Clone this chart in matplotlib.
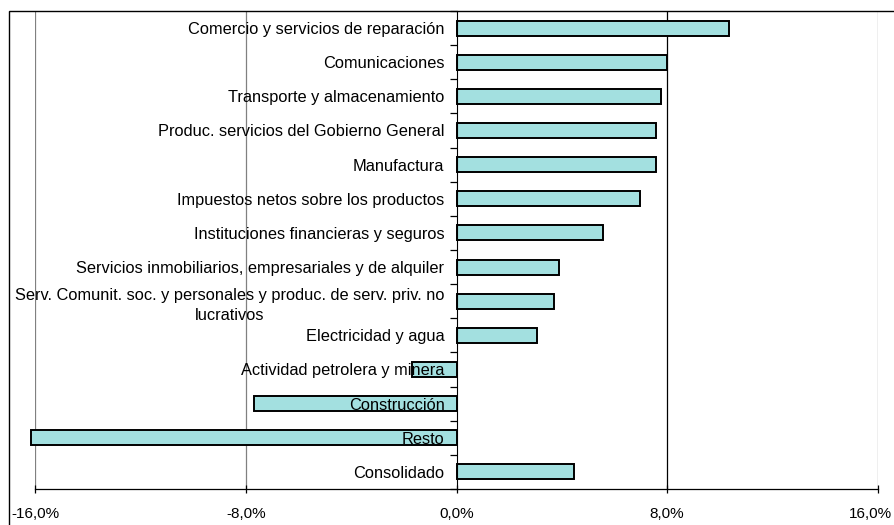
import matplotlib
matplotlib.use("Agg")
import matplotlib.pyplot as plt
from matplotlib.patches import Rectangle
from matplotlib.ticker import FuncFormatter, FixedLocator
from matplotlib.transforms import ScaledTranslation
import numpy as np

# sectors, top to bottom as in the chart
categories = [
    "Comercio y servicios de reparación",
    "Comunicaciones",
    "Transporte y almacenamiento",
    "Produc. servicios del Gobierno General",
    "Manufactura",
    "Impuestos netos sobre los productos",
    "Instituciones financieras y seguros",
    "Servicios inmobiliarios, empresariales y de alquiler",
    "Serv. Comunit. soc. y personales y produc. de serv. priv. no\nlucrativos",
    "Electricidad y agua",
    "Actividad petrolera y minera",
    "Construcción",
    "Resto",
    "Consolidado",
]
# growth rate (%)
values = [10.35, 7.98, 7.78, 7.58, 7.58, 6.96, 5.57, 3.90, 3.69, 3.06, -1.69, -7.70, -16.16, 4.45]
x_ticks = [-16, -8, 0, 8, 16]

plt.rcParams["font.family"] = ["Liberation Sans", "DejaVu Sans"]

fig = plt.figure(figsize=(8.95, 5.25), dpi=100)
W, H = 895.0, 525.0
ax = fig.add_axes([35.3 / W, 36 / H, (877.7 - 35.3) / W, (489 - 11) / H])

# chart area border (cut off at right and bottom like the original)
fig.patches.append(Rectangle((9 / W, -0.1), 1.2, 1 - 11 / H + 0.1, transform=fig.transFigure,
                             fill=False, edgecolor="black", linewidth=1.0, zorder=0))

n = len(categories)
y = np.arange(n)
ax.barh(y, values, height=0.44, color="#A3E0E0", edgecolor="black", linewidth=1.4,
        zorder=2, clip_on=False)

ax.set_xlim(-16, 16)
ax.set_ylim(n - 0.5, -0.5)
ax.set_axisbelow(False)  # labels drawn over the bars

# vertical gridlines
for xv in x_ticks:
    if xv == 0:
        continue
    ax.axvline(xv, color="#000000" if xv == 8 else "#808080", linewidth=0.9, zorder=1)

ax.xaxis.set_major_locator(FixedLocator(x_ticks))
ax.xaxis.set_major_formatter(FuncFormatter(lambda v, p: f"{v:.1f}%".replace(".", ",")))
ax.tick_params(axis="x", direction="inout", length=6, width=0.9, labelsize=11, pad=10)
last = ax.get_xticklabels()[-1]
last.set_transform(last.get_transform() + ScaledTranslation(-7 / 100, 0, fig.dpi_scale_trans))

# category axis crosses at 0
ax.spines["left"].set_position(("data", 0))
ax.spines["top"].set_visible(False)
ax.spines["right"].set_visible(False)
ax.spines["bottom"].set_linewidth(0.9)

ax.set_yticks(y)
ax.set_yticklabels(categories, fontsize=11.8, multialignment="center", linespacing=1.45)
ax.set_yticks(np.arange(n + 1) - 0.5, minor=True)
ax.tick_params(axis="y", which="major", length=0, pad=0)
ax.tick_params(axis="y", which="minor", length=5, width=0.9, direction="out")

# put the labels just left of the zero axis
for lab in ax.get_yticklabels():
    lab.set_horizontalalignment("right")
    lab.set_transform(lab.get_transform() + ScaledTranslation(-12 / 100, 0, fig.dpi_scale_trans))

fig.savefig("out.png", dpi=100)
